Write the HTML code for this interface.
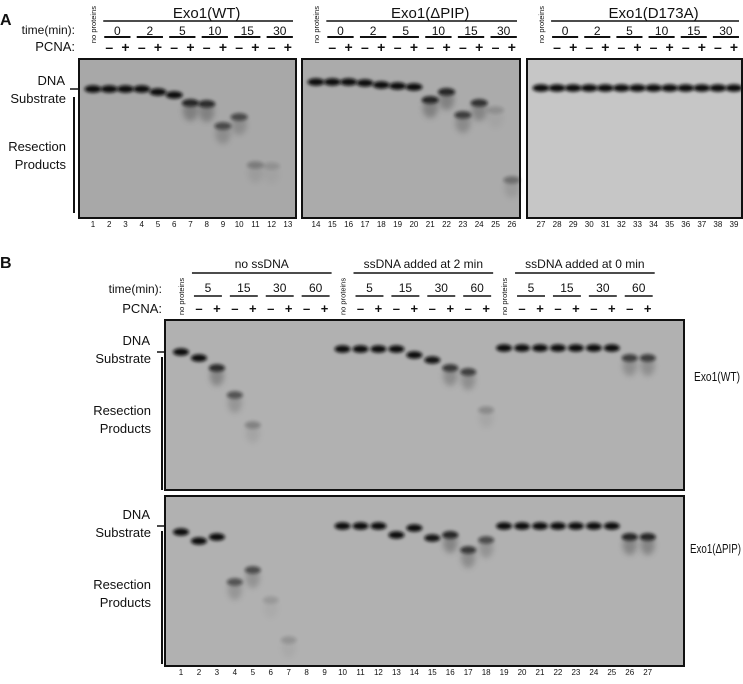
<!DOCTYPE html>
<html><head><meta charset="utf-8"><style>
body{margin:0;background:#fff;width:743px;height:679px;overflow:hidden;font-family:"Liberation Sans",sans-serif}
svg text{font-family:"Liberation Sans",sans-serif;fill:#111}
</style></head><body>
<svg id="fig" width="743" height="679" viewBox="0 0 743 679" xmlns="http://www.w3.org/2000/svg">
<defs>
<filter id="blur" x="-50%" y="-50%" width="200%" height="200%"><feGaussianBlur stdDeviation="1.5"/></filter>
<filter id="blur2" x="-50%" y="-50%" width="200%" height="200%"><feGaussianBlur stdDeviation="3"/></filter>
</defs>
<g id="layer"></g>
</svg>
<script>
// Panel A band positions (pixel row of main band) and intensities per lane
const aGel1Y=[89,89,89,89,92,95,103,104,126,117,165,166,0];
const aGel1I=[1,1,1,1,1,1,0.9,0.85,0.6,0.6,0.25,0.12,0];
const aGel2Y=[82,82,82,83,85,86,87,100,92,115,103,110,180];
const aGel2I=[1,1,1,1,1,1,1,0.9,0.9,0.7,0.8,0.15,0.35];
const aGel3Y=[88,88,88,88,88,88,88,88,88,88,88,88,88];
const aGel3I=[1,1,1,1,1,1,1,1,1,1,1,1,1];
const bTopY=[352,358,368,395,425,0,0,0,0,349,349,349,349,355,360,368,372,410,348,348,348,348,348,348,348,358,358];
const bTopI=[1,1,0.85,0.55,0.25,0,0,0,0,1,1,1,1,1,0.95,0.75,0.7,0.2,1,1,1,1,1,1,1,0.7,0.7];
const bBotY=[532,541,537,582,570,600,640,0,0,526,526,526,535,528,538,535,550,540,526,526,526,526,526,526,526,537,537];
const bBotI=[1,1,1,0.55,0.6,0.12,0.15,0,0,1,1,1,1,1,0.95,0.9,0.75,0.6,1,1,1,1,1,1,1,0.9,0.9];
const timesA=["0","2","5","10","15","30"];
const timesB=["5","15","30","60"];

const NS="http://www.w3.org/2000/svg";
const L=document.getElementById('layer');
function el(tag,attrs,txt){const e=document.createElementNS(NS,tag);for(const k in attrs)e.setAttribute(k,attrs[k]);if(txt!==undefined)e.textContent=txt;L.appendChild(e);return e;}
function txt(x,y,s,size,anchor,name,extra){const t=el('text',Object.assign({x:x,y:y,'font-size':size,'text-anchor':anchor||'middle'},extra||{}),s);


return t;}
function line(x1,y1,x2,y2,w,name){const l=el('line',{x1:x1,y1:y1,x2:x2,y2:y2,stroke:'#111','stroke-width':w});


return l;}
function gel(x,y,w,h,fill,name){const r=el('rect',{x:x,y:y,width:w,height:h,fill:fill,stroke:'#111','stroke-width':2});

}
function band(cx,cy,inten,w,name){
 if(!cy||!inten)return;
 const g=el('ellipse',{cx:cx,cy:cy,rx:w/2,ry:3.8,fill:'#0a0a0a',opacity:inten,filter:'url(#blur)'});
 
 
 if(inten<0.95){const s=el('ellipse',{cx:cx,cy:cy+8,rx:w/2-1,ry:10,fill:'#444',opacity:inten*0.45,filter:'url(#blur2)'});
 
 }
}
// ---------- Panel A ----------
txt(0,25,"A",16,'start','panel-a-label',{'font-weight':'bold'});
const gA=[{x:79,w:217,title:"Exo1(WT)",Y:aGel1Y,I:aGel1I,fill:'#a8a8a8',n0:1},
          {x:302,w:218,title:"Exo1(ΔPIP)",Y:aGel2Y,I:aGel2I,fill:'#ababab',n0:14},
          {x:527,w:215,title:"Exo1(D173A)",Y:aGel3Y,I:aGel3I,fill:'#c6c6c6',n0:27}];
gA.forEach((g,gi)=>{
 gel(g.x,59,g.w,159,g.fill,'gel-a-'+(gi+1));
 const sp=(g.w-14)/12.5, x0=g.x+14;
 txt(x0+sp*7,18,g.title,15,'middle','gel-a-title-'+(gi+1));
 line(x0+sp*1-6,21,g.x+g.w-3,21,1.5,'title-underline-a-'+(gi+1));
 txt(x0+3,6,"no proteins",7.5,'end','no-proteins-label-a-'+(gi+1)).setAttribute('transform',`rotate(-90 ${x0+3} 6)`);
 for(let i=0;i<13;i++){
   const cx=x0+sp*i;
   band(cx,g.Y[i],g.I[i],17,'band-a-lane-'+(g.n0+i));
   txt(cx,227,String(g.n0+i),8,'middle','lane-number-'+(g.n0+i),{fill:'#333'});
 }
 for(let k=0;k<6;k++){
   const c1=x0+sp*(1+2*k),c2=c1+sp;
   txt((c1+c2)/2,35,timesA[k],12,'middle','time-a-'+timesA[k]);
   line(c1-5,37,c2+5,37,2,'time-underline');
   txt(c1,52,"–",14,'middle','pcna-minus',{'font-weight':'bold'});
   txt(c2,52,"+",14,'middle','pcna-plus',{'font-weight':'bold'});
 }
});
txt(75,34,"time(min):",12,'end','time-row-label-a');
txt(75,51,"PCNA:",13,'end','pcna-row-label-a');
txt(65,85,"DNA",13,'end','dna-substrate-label-a');
txt(66,103,"Substrate",13,'end','substrate-label-a');
txt(66,151,"Resection",13,'end','resection-label-a');
txt(66,169,"Products",13,'end','products-label-a');
line(70,89,78,89,1.5,'substrate-tick-a');
line(74,97,74,213,2,'products-bracket-a');
// ---------- Panel B ----------
txt(0,268,"B",16,'start','panel-b-label',{'font-weight':'bold'});
const bx0=181,bsp=17.95;
gel(165,320,519,170,'#b1b1b1','gel-b-wt');
gel(165,496,519,170,'#b1b1b1','gel-b-dpip');
for(let i=0;i<27;i++){
 const cx=bx0+bsp*i;
 band(cx,bTopY[i],bTopI[i],16,'band-b-wt-lane-'+(i+1));
 band(cx,bBotY[i],bBotI[i],16,'band-b-dpip-lane-'+(i+1));
 txt(cx,675,String(i+1),8,'middle','lane-number-b-'+(i+1),{fill:'#333'});
}
const groups=["no ssDNA","ssDNA added at 2 min","ssDNA added at 0 min"];
for(let gi=0;gi<3;gi++){
 const f=bx0+bsp*9*gi;
 const t=txt(f+3,315,"no proteins",7.5,'start','no-proteins-label-b-'+(gi+1));
 t.setAttribute('transform',`rotate(-90 ${f+3} 315)`);
 const s=f+bsp, e=f+bsp*8;
 txt((s+e)/2,268,groups[gi],12,'middle','group-label-'+(gi+1));
 line(s-7,273,e+7,273,1.5,'group-underline-'+(gi+1));
 for(let k=0;k<4;k++){
  const c1=f+bsp*(1+2*k),c2=c1+bsp;
  txt((c1+c2)/2,292,timesB[k],12,'middle','time-b-'+timesB[k]);
  line(c1-5,296,c2+5,296,1.5,'time-underline-b');
  txt(c1,313,"–",13,'middle','pcna-minus-b',{'font-weight':'bold'});
  txt(c2,313,"+",13,'middle','pcna-plus-b',{'font-weight':'bold'});
 }
}
txt(162,293,"time(min):",12,'end','time-row-label-b');
txt(162,313,"PCNA:",13,'end','pcna-row-label-b');
[[0,'wt'],[174,'dpip']].forEach(([o,n])=>{
 txt(150,345+o,"DNA",13,'end','dna-label-b-'+n);
 txt(151,363+o,"Substrate",13,'end','substrate-label-b-'+n);
 txt(151,415+o,"Resection",13,'end','resection-label-b-'+n);
 txt(151,433+o,"Products",13,'end','products-label-b-'+n);
 line(157,352+o,165,352+o,1.5,'substrate-tick-b-'+n);
 line(162,357+o,162,490+o,2,'products-bracket-b-'+n);
});
txt(694,381,"Exo1(WT)",13,'start','gel-b-wt-label',{textLength:46,lengthAdjust:'spacingAndGlyphs'});
txt(690,553,"Exo1(ΔPIP)",13,'start','gel-b-dpip-label',{textLength:51,lengthAdjust:'spacingAndGlyphs'});
</script>
</body></html>
